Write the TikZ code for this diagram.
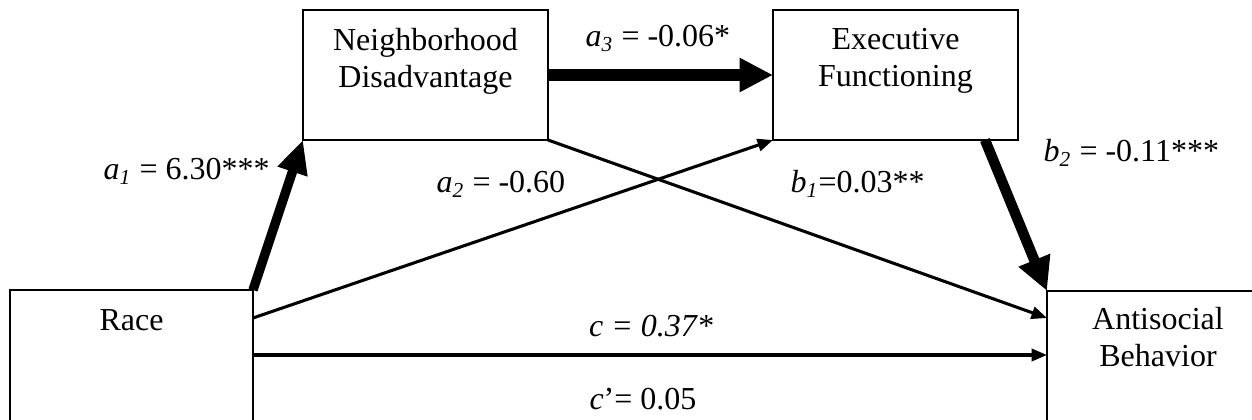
\documentclass[tikz,border=0pt]{standalone}
\usepackage{fontspec}
\setmainfont{Liberation Serif}
\usetikzlibrary{arrows.meta,calc}
\tikzset{
  box/.style={draw, line width=0.75pt, rectangle, inner sep=0pt, outer sep=0pt, anchor=north west},
  boxtext/.style={inner sep=0pt, align=center, font=\fontsize{12}{13.8}\selectfont},
  lbl/.style={inner sep=0pt, anchor=base west, font=\fontsize{12}{13.8}\selectfont},
  thinarr/.style={line width=1.15pt, -{Triangle[length=5.8pt,width=4.6pt]}},
  thickarr/.style={-{Triangle[length=12.5pt,width=#1]}},
}
\begin{document}
\begin{tikzpicture}[x=0.375pt,y=-0.375pt]
\clip (0,0) rectangle (1252,420);
% boxes
\node[box, minimum width=91.875pt, minimum height=48.75pt] (nd) at (303,10) {};
\node[box, minimum width=91.875pt, minimum height=48.75pt] (ef) at (773,10) {};
\node[box, minimum width=91.125pt, minimum height=50.625pt] (race) at (10,290) {};
\node[box, minimum width=85.5pt, minimum height=50.25pt] (anti) at (1047,291) {};
% box texts
\node[boxtext, anchor=north] (ndt) at (425.5,28) {Neighborhood\\Disadvantage};
\node[boxtext, anchor=north] (eft) at (895.5,28) {Executive\\Functioning};
\node[boxtext, anchor=base] (racet) at (131.5,331) {Race};
\node[boxtext, anchor=north] (antit) at (1158,307) {Antisocial\\Behavior};
% connectors
\draw[thickarr=11pt, line width=3.5pt] (race.north east) -- (nd.south west);
\draw[thinarr] ($(race.north east)+(0,28)$) -- (ef.south west);
\draw[thickarr=12pt, line width=4.3pt] (nd.east) -- (ef.west);
\draw[thinarr] (nd.south east) -- ($(anti.north west)+(0,27)$);
\draw[thickarr=12pt, line width=3.9pt] ($(ef.south west)+(212,0)$) -- (anti.north west);
\draw[thinarr] ($(race.north east)+(0,65)$) -- ($(anti.north west)+(0,64)$);
% labels
\node[lbl] (la1) at (103,180) {\textit{a}\textsubscript{\textit{1}} = 6.30***};
\node[lbl] (la2) at (436,193) {\textit{a}\textsubscript{\textit{2}} = -0.60};
\node[lbl] (la3) at (585,47) {\textit{a}\textsubscript{\textit{3}} = -0.06*};
\node[lbl] (lb1) at (790,193) {\textit{b}\textsubscript{\textit{1}}=0.03**};
\node[lbl] (lb2) at (1043,162) {\textit{b}\textsubscript{\textit{2}} = -0.11***};
\node[lbl, anchor=base] (lc) at (651,337) {\textit{c = 0.37*}};
\node[lbl] (lcp) at (589,410) {\textit{c}’= 0.05};
\end{tikzpicture}
\end{document}
